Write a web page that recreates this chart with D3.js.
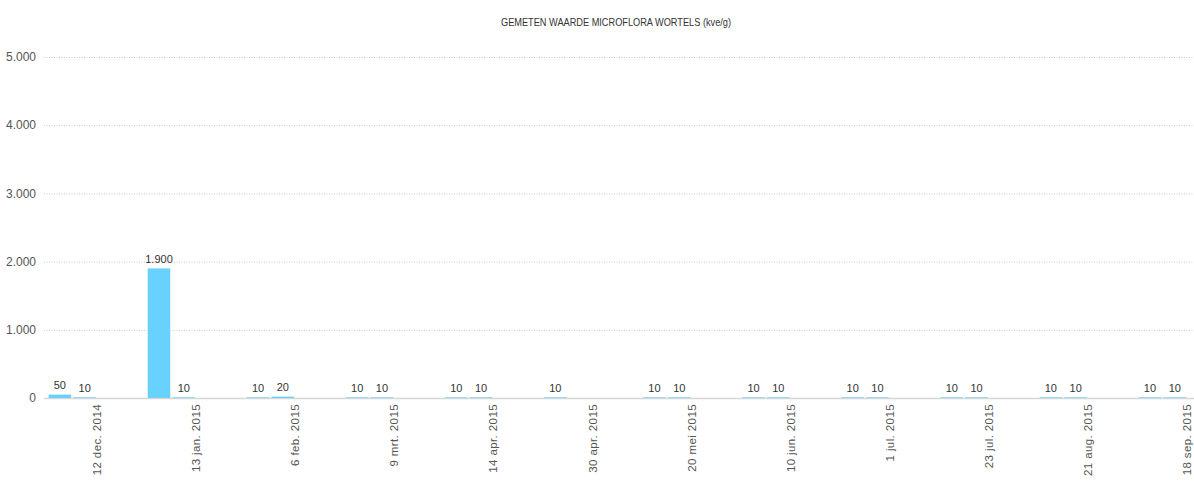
<!DOCTYPE html>
<html>
<head>
<meta charset="utf-8">
<script src="https://cdn.jsdelivr.net/npm/d3@7"></script>
<style>
  html, body { margin: 0; padding: 0; background: #fff; }
  svg { display: block; }
  text { font-family: "Liberation Sans Narrow", "Arial Narrow", "Liberation Sans", Arial, sans-serif; }
</style>
</head>
<body>
<svg id="chart" width="1194" height="482"></svg>
<script>
// Sampling dates (one group of measurements per date)
const dates = [
  "12 dec. 2014", "13 jan. 2015", "6 feb. 2015", "9 mrt. 2015",
  "14 apr. 2015", "30 apr. 2015", "20 mei 2015", "10 jun. 2015",
  "1 jul. 2015", "23 jul. 2015", "21 aug. 2015", "18 sep. 2015"
];
// Measured microflora (kve/g), first and second sample per date
const sample1 = [50, 1900, 10, 10, 10, 10, 10, 10, 10, 10, 10, 10];
const sample2 = [10, 10, 20, 10, 10, null, 10, 10, 10, 10, 10, 10];
const yTicks = [0, 1000, 2000, 3000, 4000, 5000];
const title = "GEMETEN WAARDE MICROFLORA WORTELS (kve/g)";

const series = [sample1, sample2];
const slots = [0, 1, 2, 3]; // four bar slots per date; two are filled

const svg = d3.select("#chart");
const fmt = d3.formatLocale({ decimal: ",", thousands: ".", grouping: [3], currency: ["€", ""] }).format(",d");

const x = d3.scaleBand().domain(dates).range([47.5, 47.5 + 12 * 99.1]).padding(0);
const xi = d3.scaleBand().domain(slots).range([0, x.bandwidth()]).paddingInner(0.09).paddingOuter(0.045);
const y = d3.scaleLinear().domain([0, 5000]).range([398, 57]);

// title (condensed to its set width)
svg.append("text")
  .attr("x", 616).attr("y", 26)
  .attr("text-anchor", "middle")
  .attr("font-size", 11)
  .attr("textLength", 230)
  .attr("lengthAdjust", "spacingAndGlyphs")
  .attr("fill", "#333")
  .text(title);

// gridlines + y labels
const yAxis = svg.append("g");
yAxis.selectAll("line.grid").data(yTicks.filter(d => d > 0)).join("line")
  .attr("class", "grid")
  .attr("x1", 44).attr("x2", 1194)
  .attr("y1", d => y(d) + 0.5).attr("y2", d => y(d) + 0.5)
  .attr("stroke", "#c8c8c8").attr("stroke-width", 1)
  .attr("stroke-dasharray", "1,1.5");
yAxis.selectAll("text").data(yTicks).join("text")
  .attr("x", 36).attr("y", d => y(d))
  .attr("dy", "0.35em")
  .attr("text-anchor", "end")
  .attr("font-size", 12)
  .attr("fill", "#555")
  .text(d => fmt(d));

// baseline
svg.append("line")
  .attr("x1", 44).attr("x2", 1194)
  .attr("y1", y(0) + 0.5).attr("y2", y(0) + 0.5)
  .attr("stroke", "#d6d6d6").attr("stroke-width", 1.5);

// bars
const groups = svg.append("g").selectAll("g").data(series).join("g");
groups.each(function (vals, si) {
  const g = d3.select(this);
  const pts = dates.map((d, i) => ({ date: d, v: vals[i] })).filter(p => p.v != null);
  g.selectAll("rect").data(pts).join("rect")
    .attr("x", p => x(p.date) + xi(si))
    .attr("width", xi.bandwidth())
    .attr("y", p => y(p.v))
    .attr("height", p => y(0) - y(p.v))
    .attr("fill", "#68d1fd");
  g.selectAll("text").data(pts).join("text")
    .attr("x", p => x(p.date) + xi(si) + xi.bandwidth() / 2)
    .attr("y", p => y(p.v) - 5.5)
    .attr("text-anchor", "middle")
    .attr("font-size", 11)
    .attr("fill", "#333")
    .text(p => fmt(p.v));
});

// rotated date labels
svg.append("g").selectAll("text").data(dates).join("text")
  .attr("transform", d => `translate(${x(d) + x.bandwidth() / 2},404) rotate(-90)`)
  .attr("dy", "0.35em")
  .attr("text-anchor", "end")
  .attr("font-family", "'Liberation Sans', Arial, sans-serif")
  .attr("font-size", 11.5)
  .attr("letter-spacing", "0.4px")
  .attr("fill", "#555")
  .text(d => d);
</script>
</body>
</html>
